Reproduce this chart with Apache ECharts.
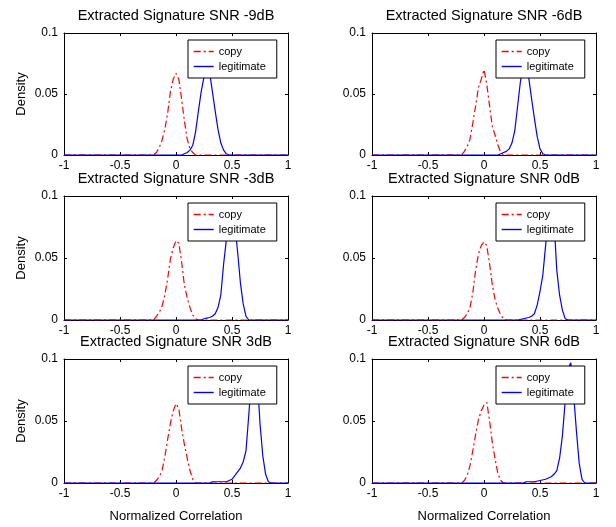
<!DOCTYPE html>
<html>
<head>
<meta charset="utf-8">
<script src="https://cdn.jsdelivr.net/npm/echarts@6/dist/echarts.min.js"></script>
<style>
  html, body { margin: 0; padding: 0; background: #fff; }
  #chart { width: 616px; height: 527px; }
</style>
</head>
<body>
<div id="chart"></div>
<script>
// subplot titles, reading order
const titles = [
  'Extracted Signature SNR -9dB', 'Extracted Signature SNR -6dB',
  'Extracted Signature SNR -3dB', 'Extracted Signature SNR 0dB',
  'Extracted Signature SNR 3dB', 'Extracted Signature SNR 6dB'
];
const seriesNames = ['copy', 'legitimate'];

// [normalized correlation, density]
const copyM9 = [[-1, 0], [-0.2, 0], [-0.175, 0.002], [-0.15, 0.006], [-0.125, 0.012], [-0.1, 0.021], [-0.075, 0.034],
  [-0.05, 0.052], [-0.025, 0.062], [0, 0.067], [0.025, 0.062], [0.05, 0.046], [0.075, 0.028], [0.1, 0.013],
  [0.125, 0.005], [0.15, 0.002], [0.175, 0], [1, 0]];
const legitM9 = [[-1, 0], [0.05, 0], [0.075, 0.001], [0.1, 0.002], [0.125, 0.004], [0.15, 0.008], [0.175, 0.019],
  [0.2, 0.036], [0.225, 0.052], [0.25, 0.064], [0.275, 0.071], [0.3, 0.068], [0.325, 0.052], [0.35, 0.036],
  [0.375, 0.021], [0.4, 0.01], [0.425, 0.004], [0.45, 0.001], [0.475, 0], [1, 0]];

const copyM6 = [[-1, 0], [-0.2, 0], [-0.175, 0.003], [-0.15, 0.007], [-0.125, 0.013], [-0.1, 0.026], [-0.075, 0.04],
  [-0.05, 0.055], [-0.025, 0.062], [0, 0.07], [0.025, 0.058], [0.05, 0.04], [0.075, 0.023], [0.1, 0.016],
  [0.125, 0.008], [0.15, 0.002], [0.175, 0], [1, 0]];
const legitM6 = [[-1, 0], [0.125, 0], [0.15, 0.001], [0.175, 0.002], [0.2, 0.003], [0.225, 0.005], [0.25, 0.01],
  [0.275, 0.02], [0.3, 0.04], [0.325, 0.06], [0.35, 0.072], [0.375, 0.075], [0.4, 0.063], [0.425, 0.046],
  [0.45, 0.03], [0.475, 0.015], [0.5, 0.005], [0.525, 0.001], [0.55, 0], [1, 0]];

const copyM3 = [[-1, 0], [-0.2, 0], [-0.175, 0.003], [-0.15, 0.006], [-0.125, 0.011], [-0.1, 0.02], [-0.075, 0.033],
  [-0.05, 0.049], [-0.025, 0.058], [0, 0.064], [0.025, 0.062], [0.05, 0.047], [0.075, 0.028], [0.1, 0.018],
  [0.125, 0.01], [0.15, 0.004], [0.175, 0.001], [0.2, 0], [1, 0]];
const legitM3 = [[-1, 0], [0.225, 0], [0.25, 0.001], [0.275, 0.0015], [0.3, 0.002], [0.325, 0.003], [0.35, 0.005],
  [0.375, 0.01], [0.4, 0.02], [0.425, 0.045], [0.45, 0.065], [0.475, 0.078], [0.5, 0.081], [0.525, 0.077],
  [0.55, 0.055], [0.575, 0.03], [0.6, 0.013], [0.625, 0.003], [0.65, 0], [1, 0]];

const copy0 = [[-1, 0], [-0.2, 0], [-0.175, 0.002], [-0.15, 0.005], [-0.125, 0.01], [-0.1, 0.022], [-0.075, 0.04],
  [-0.05, 0.053], [-0.025, 0.06], [0, 0.063], [0.025, 0.06], [0.05, 0.045], [0.075, 0.028], [0.1, 0.016],
  [0.125, 0.009], [0.15, 0.004], [0.175, 0.001], [0.2, 0], [1, 0]];
const legit0 = [[-1, 0], [0.3, 0], [0.35, 0.001], [0.4, 0.002], [0.425, 0.003], [0.45, 0.005], [0.475, 0.012],
  [0.5, 0.023], [0.525, 0.036], [0.55, 0.06], [0.575, 0.082], [0.6, 0.088], [0.625, 0.08], [0.65, 0.04],
  [0.675, 0.02], [0.7, 0.008], [0.725, 0.001], [0.75, 0], [1, 0]];

const copyP3 = [[-1, 0], [-0.2, 0], [-0.175, 0.002], [-0.15, 0.005], [-0.125, 0.01], [-0.1, 0.021], [-0.075, 0.035],
  [-0.05, 0.048], [-0.025, 0.058], [0, 0.064], [0.025, 0.06], [0.05, 0.044], [0.075, 0.031], [0.1, 0.02],
  [0.125, 0.01], [0.15, 0.003], [0.175, 0], [1, 0]];
const legitP3 = [[-1, 0], [0.3, 0], [0.325, 0.001], [0.45, 0.001], [0.475, 0.002], [0.5, 0.003], [0.525, 0.006],
  [0.55, 0.009], [0.575, 0.012], [0.6, 0.017], [0.625, 0.026], [0.65, 0.055], [0.675, 0.085], [0.7, 0.092],
  [0.725, 0.086], [0.75, 0.048], [0.775, 0.022], [0.8, 0.007], [0.825, 0.001], [0.85, 0], [1, 0]];

const copyP6 = [[-1, 0], [-0.2, 0], [-0.175, 0.002], [-0.15, 0.006], [-0.125, 0.014], [-0.1, 0.026], [-0.075, 0.039],
  [-0.05, 0.051], [-0.025, 0.058], [0, 0.063], [0.025, 0.065], [0.05, 0.05], [0.075, 0.032], [0.1, 0.019],
  [0.125, 0.007], [0.15, 0.002], [0.175, 0], [1, 0]];
const legitP6 = [[-1, 0], [0.35, 0], [0.375, 0.001], [0.45, 0.001], [0.5, 0.002], [0.55, 0.003], [0.6, 0.005],
  [0.625, 0.007], [0.65, 0.01], [0.675, 0.02], [0.7, 0.038], [0.725, 0.066], [0.75, 0.092], [0.775, 0.097],
  [0.8, 0.072], [0.825, 0.042], [0.85, 0.016], [0.875, 0.003], [0.9, 0], [1, 0]];

const copyData = [copyM9, copyM6, copyM3, copy0, copyP3, copyP6];
const legitData = [legitM9, legitM6, legitM3, legit0, legitP3, legitP6];

const colLeft = [64, 372];
const rowTop = [33, 196, 359];
const rowHeight = [122, 124, 124];
const plotWidth = 224;
const font = '"Liberation Sans", Arial, sans-serif';
const dashDot = [7, 3, 2, 3];

const chart = echarts.init(document.getElementById('chart'), null, { renderer: 'canvas' });

const grids = [], xAxes = [], yAxes = [], series = [], legends = [], titleList = [];

for (let i = 0; i < 6; i++) {
  const col = i % 2, row = Math.floor(i / 2);
  const left = colLeft[col], top = rowTop[row], h = rowHeight[row];
  grids.push({ left: left, top: top, width: plotWidth, height: h, containLabel: false });

  xAxes.push({
    gridIndex: i, type: 'value', min: -1, max: 1, interval: 0.5, position: 'bottom',
    axisLine: { show: true, onZero: false, lineStyle: { color: '#000', width: 1 } },
    axisTick: { show: true, inside: true, length: 3, lineStyle: { color: '#000' } },
    splitLine: { show: false },
    axisLabel: { color: '#000', fontSize: 12, fontFamily: font, margin: 5 },
    name: row === 2 ? 'Normalized Correlation' : '',
    nameLocation: 'middle', nameGap: 27,
    nameTextStyle: { color: '#000', fontSize: 13, fontFamily: font }
  });

  yAxes.push({
    gridIndex: i, type: 'value', min: 0, max: 0.1, interval: 0.05, position: 'left',
    axisLine: { show: true, onZero: false, lineStyle: { color: '#000', width: 1 } },
    axisTick: { show: true, inside: true, length: 3, lineStyle: { color: '#000' } },
    splitLine: { show: false },
    axisLabel: { color: '#000', fontSize: 12, fontFamily: font, margin: 6 },
    name: col === 0 ? 'Density' : '',
    nameLocation: 'middle', nameGap: 36, nameRotate: 90,
    nameTextStyle: { color: '#000', fontSize: 13, fontFamily: font }
  });

  series.push({
    name: seriesNames[0], type: 'line', xAxisIndex: i, yAxisIndex: i,
    data: copyData[i], symbol: 'none', animation: false,
    lineStyle: { color: '#ff0000', width: 1.2, type: dashDot },
    itemStyle: { color: '#ff0000' }
  });
  series.push({
    name: seriesNames[1], type: 'line', xAxisIndex: i, yAxisIndex: i,
    data: legitData[i], symbol: 'none', animation: false,
    lineStyle: { color: '#0000ff', width: 1.2 },
    itemStyle: { color: '#0000ff' }
  });

  legends.push({
    data: [
      { name: seriesNames[0], itemStyle: { opacity: 0 },
        lineStyle: { color: '#ff0000', width: 1.4, type: dashDot } },
      { name: seriesNames[1], itemStyle: { opacity: 0 },
        lineStyle: { color: '#0000ff', width: 1.4, type: 'solid' } }
    ],
    orient: 'vertical',
    left: left + 124, top: top + 7,
    padding: [6, 11, 6, 5], itemGap: 4, itemWidth: 20, itemHeight: 12,
    backgroundColor: '#fff', borderColor: '#000', borderWidth: 1, borderRadius: 0,
    textStyle: { color: '#000', fontSize: 11, fontFamily: font },
    selectedMode: false, z: 10
  });

  titleList.push({
    text: titles[i], left: left + plotWidth / 2, textAlign: 'center',
    top: top - 25, padding: 0,
    textStyle: { color: '#000', fontSize: 14.5, fontWeight: 'normal', fontFamily: font }
  });
}

// box ticks on the top and right edges
for (let i = 0; i < 6; i++) {
  xAxes.push({
    gridIndex: i, type: 'value', min: -1, max: 1, interval: 0.5, position: 'top',
    axisLine: { show: true, onZero: false, lineStyle: { color: '#000', width: 1 } },
    axisTick: { show: true, inside: true, length: 3, lineStyle: { color: '#000' } },
    axisLabel: { show: false }, splitLine: { show: false }
  });
  yAxes.push({
    gridIndex: i, type: 'value', min: 0, max: 0.1, interval: 0.05, position: 'right',
    axisLine: { show: true, onZero: false, lineStyle: { color: '#000', width: 1 } },
    axisTick: { show: true, inside: true, length: 3, lineStyle: { color: '#000' } },
    axisLabel: { show: false }, splitLine: { show: false }
  });
}

chart.setOption({
  animation: false,
  backgroundColor: '#fff',
  title: titleList,
  grid: grids,
  xAxis: xAxes,
  yAxis: yAxes,
  legend: legends,
  series: series
});
</script>
</body>
</html>
